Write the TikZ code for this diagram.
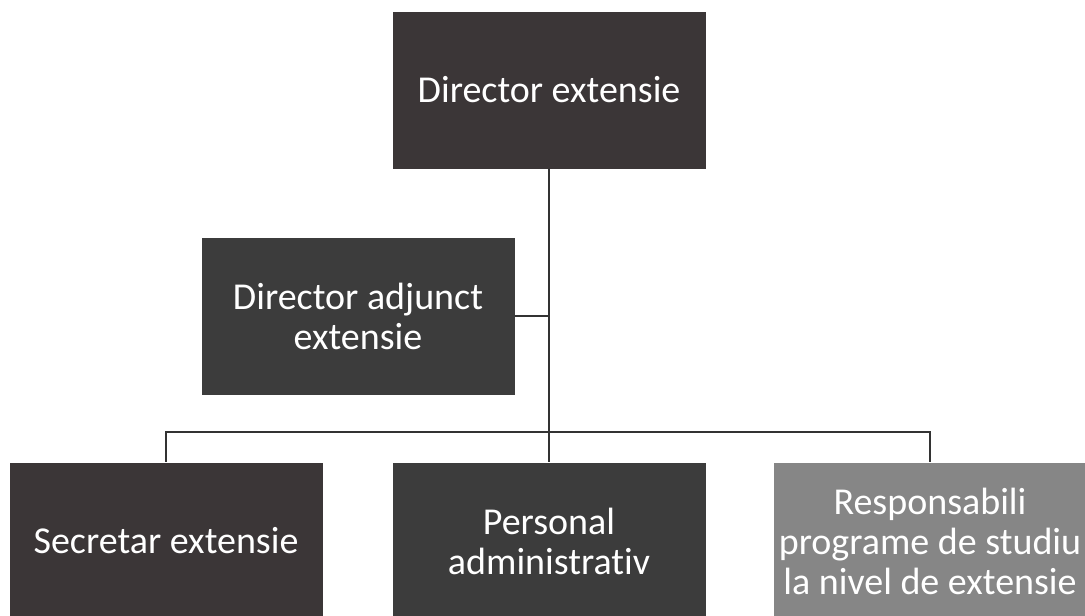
\documentclass[tikz,border=0pt]{standalone}
\usepackage{fontspec}
\setmainfont{Carlito}[Ligatures=NoCommon]
\definecolor{boxdark}{HTML}{3B3637}
\definecolor{boxgrey}{HTML}{3C3C3C}
\definecolor{boxlight}{HTML}{868686}
\definecolor{linegrey}{HTML}{333333}
\begin{document}
\begin{tikzpicture}
  [x=1pt,y=-1pt,every node/.style={rectangle,minimum width=313pt,minimum height=157pt,
   inner sep=0pt,align=center,text=white,font=\fontsize{38}{40}\selectfont}]
  \useasboundingbox (0,0) rectangle (1085,616);
  \clip (0,0) rectangle (1085,616);

  \node[fill=boxdark]  (dir)  at (549,90)  {Director extensie};
  \node[fill=boxgrey]  (adj)  at (358,316) {Director adjunct\\extensie};
  \node[fill=boxdark]  (sec)  at (166,541) {Secretar extensie};
  \node[fill=boxgrey]  (pers) at (549,541) {Personal\\administrativ};
  \node[fill=boxlight] (resp) at (930,541) {Responsabili\\programe de studiu\\la nivel de extensie};
  \coordinate (bus) at (549,432);

  \draw [line width=2pt,color=linegrey] (dir.south) -- (bus);
  \draw [line width=2pt,color=linegrey] (adj.east) -- (adj.east -| dir.south);
  \foreach \to in {sec,pers,resp}
    \draw [line width=2pt,color=linegrey] (bus) -| (\to.north);
\end{tikzpicture}
\end{document}
